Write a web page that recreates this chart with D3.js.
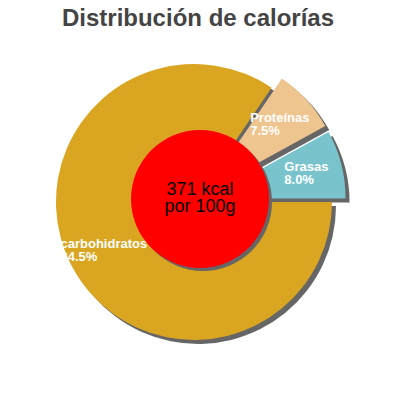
<!DOCTYPE html>
<html>
<head>
<meta charset="utf-8">
<script src="https://cdn.jsdelivr.net/npm/d3@7"></script>
<style>
  body { margin: 0; background: #fff; }
  svg { display: block; font-family: "Liberation Sans", Arial, sans-serif; }
</style>
</head>
<body>
<div class="chart"></div>
<script>
// chart data
const categories = ["carbohidratos", "Proteínas", "Grasas"];
const percents = [84.5, 7.5, 8.0];
const kcal = 371;
const title = "Distribución de calorías";

const w = 400, h = 400;
const cx = 194, cy = 202, radius = 138;
const color = d3.scaleOrdinal(categories, ["#DAA520", "#EEC48F", "#79C4CC"]);

const svg = d3.select('.chart').append('svg')
    .attr('width', w)
    .attr('height', h);

svg.append('text')
    .attr('x', 198)
    .attr('y', 26)
    .attr('text-anchor', 'middle')
    .attr('font-size', 24)
    .attr('font-weight', 'bold')
    .attr('fill', '#444')
    .text(title);

const pie = d3.pie()
    .sort(null)
    .startAngle(Math.PI / 2)
    .endAngle(Math.PI / 2 + 2 * Math.PI);
const arcs = pie(percents);
const arc = d3.arc().innerRadius(0).outerRadius(radius);
const labelArc = d3.arc().innerRadius(102).outerRadius(102);

// small slices are pulled out of the pie
const explode = d => d.index > 0 ? 14 : 0;
const offset = d => {
    const a = (d.startAngle + d.endAngle) / 2;
    return [Math.sin(a) * explode(d), -Math.cos(a) * explode(d)];
};

const g = svg.append('g').attr('transform', `translate(${cx},${cy})`);

// shadows first
g.append('g')
    .selectAll('path')
    .data(arcs)
    .join('path')
    .attr('fill', '#666')
    .attr('d', arc)
    .attr('transform', d => { const o = offset(d); return `translate(${o[0] + 4},${o[1] + 4})`; });

g.append('g')
    .selectAll('path')
    .data(arcs)
    .join('path')
    .attr('fill', (d, i) => color(categories[i]))
    .attr('d', arc)
    .attr('transform', d => { const o = offset(d); return `translate(${o[0]},${o[1]})`; });

// labels, two lines, left aligned inside a centred block
const labels = g.append('g')
    .selectAll('text')
    .data(arcs)
    .join('text')
    .attr('fill', '#fff')
    .attr('font-size', 13)
    .attr('font-weight', 'bold');

labels.append('tspan').text((d, i) => categories[i]);
labels.append('tspan').attr('dy', 13).text((d, i) => percents[i].toFixed(1) + '%');

labels.each(function (d) {
    const t = d3.select(this);
    const c = labelArc.centroid(d);
    const o = offset(d);
    const bw = d3.max(t.selectAll('tspan').nodes(), n => n.getComputedTextLength());
    const x = c[0] + o[0] - bw / 2;
    const y = c[1] + o[1] - 2;
    t.selectAll('tspan').attr('x', x);
    t.select('tspan').attr('y', y);
});

// centre disc
const ccx = 200, ccy = 199, cr = 69;
svg.append('circle')
    .attr('cx', ccx + 3).attr('cy', ccy + 3).attr('r', cr)
    .attr('fill', '#666');
svg.append('circle')
    .attr('cx', ccx).attr('cy', ccy).attr('r', cr)
    .attr('fill', '#FF0000');

const centre = svg.append('text')
    .attr('text-anchor', 'middle')
    .attr('font-size', 18)
    .attr('fill', '#000');
centre.append('tspan').attr('x', ccx).attr('y', 195).text(kcal + ' kcal');
centre.append('tspan').attr('x', ccx).attr('y', 212).text('por 100g');
</script>
</body>
</html>
